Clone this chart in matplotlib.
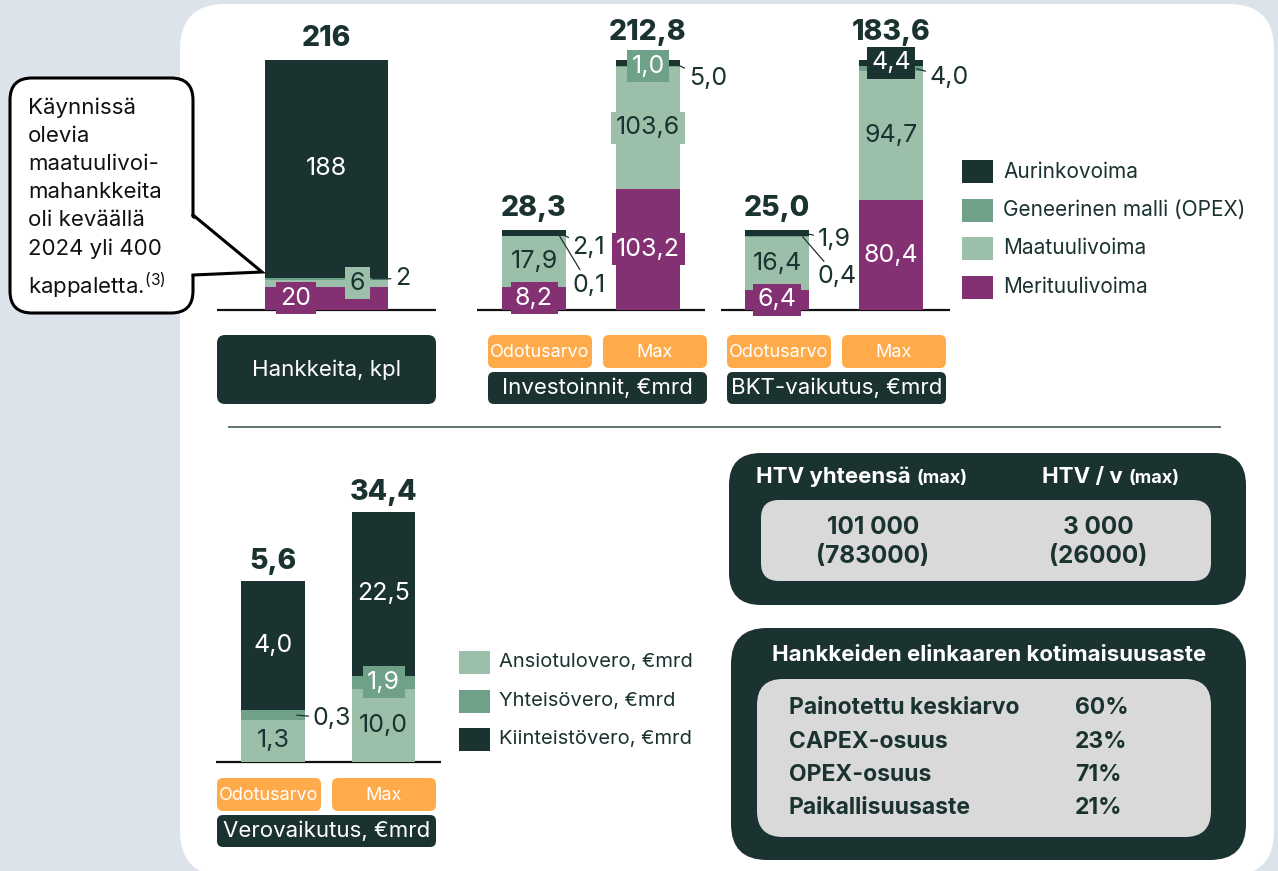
import matplotlib
matplotlib.use('Agg')
import matplotlib.pyplot as plt
from matplotlib.patches import FancyBboxPatch, Rectangle, Polygon

plt.rcParams['font.family'] = ['Inter', 'DejaVu Sans']
plt.rcParams['mathtext.fontset'] = 'custom'
plt.rcParams['mathtext.rm'] = 'Inter'

W, H = 1278, 871

# --- data ---------------------------------------------------------------
# pinot alhaalta ylös: meri, maa, geneerinen, aurinko
energia_sarjat = ['Merituulivoima', 'Maatuulivoima', 'Geneerinen malli (OPEX)', 'Aurinkovoima']
hankkeet_kpl = [20, 6, 2, 188]
hankkeet_yht = 216
invest_odotus = [8.2, 17.9, 0.1, 2.1]
invest_odotus_yht = 28.3
invest_max = [103.2, 103.6, 1.0, 5.0]
invest_max_yht = 212.8
bkt_odotus = [6.4, 16.4, 0.4, 1.9]
bkt_odotus_yht = 25.0
bkt_max = [80.4, 94.7, 4.0, 4.4]
bkt_max_yht = 183.6

vero_sarjat = ['Ansiotulovero, €mrd', 'Yhteisövero, €mrd', 'Kiinteistövero, €mrd']
vero_odotus = [1.3, 0.3, 4.0]
vero_odotus_yht = 5.6
vero_max = [10.0, 1.9, 22.5]
vero_max_yht = 34.4

skenaariot = ['Odotusarvo', 'Max']
htv_otsikot = ['HTV yhteensä', 'HTV / v']
htv_arvot = ['101 000', '3 000']
htv_sulut = ['(783000)', '(26000)']

kotimaisuus_nimet = ['Painotettu keskiarvo', 'CAPEX-osuus', 'OPEX-osuus', 'Paikallisuusaste']
kotimaisuus_pros = [60, 23, 71, 21]

# --- colours ------------------------------------------------------------
DARK = '#1b3330'
GEN = '#6fa088'
MAA = '#9cbfa9'
MERI = '#843173'
ORANGE = '#ffab4c'
BG = '#dce3ea'
GRAY = '#d9d9d9'

energia_varit = [MERI, MAA, GEN, DARK]
vero_varit = [MAA, GEN, DARK]

fig = plt.figure(figsize=(W / 100, H / 100), dpi=100)
fig.patch.set_facecolor(BG)

bg = fig.add_axes([0, 0, 1, 1])
bg.set_xlim(0, W)
bg.set_ylim(H, 0)
bg.axis('off')


def rbox(x0, y0, x1, y1, color, r, **kw):
    p = FancyBboxPatch((x0, y0), x1 - x0, y1 - y0,
                       boxstyle=f'round,pad=0,rounding_size={r}',
                       facecolor=color, edgecolor=kw.pop('ec', 'none'), **kw)
    bg.add_patch(p)
    return p


def fmt(v, dec=1):
    return f'{v:.{dec}f}'.replace('.', ',')


def draw_stack(x0, x1, base, h_px, values, total, colors, specs, total_off=20, dec=1):
    ax = fig.add_axes([x0 / W, (H - base) / H, (x1 - x0) / W, h_px / H])
    ax.set_xlim(-0.5, 0.5)
    ax.set_ylim(0, sum(values))
    ax.axis('off')
    bottom = 0
    for v, c, spec in zip(values, colors, specs):
        ax.bar(0, v, bottom=bottom, width=1, color=c, linewidth=0)
        mid = bottom + v / 2
        kind = spec[0]
        if kind == 'out':
            _, sx, dx, dy = spec
            ax.annotate(fmt(v, dec), xy=(sx, mid), xytext=(dx * 0.72, -dy * 0.72),
                        textcoords='offset points', ha='left', va='center',
                        fontsize=18, color=DARK, annotation_clip=False,
                        arrowprops=dict(arrowstyle='-', color=DARK, lw=0.9,
                                        shrinkA=1, shrinkB=0))
        else:
            _, sx, tc = spec
            kw = {}
            if kind == 'box':
                kw['bbox'] = dict(boxstyle='square,pad=0.18', fc=c, ec='none')
            ax.text(sx, mid, fmt(v, dec), ha='center', va='center',
                    fontsize=18, color=tc, **kw)
        bottom += v
    ax.annotate(fmt(total, dec), xy=(0, sum(values)), xytext=(0, total_off * 0.72),
                textcoords='offset points', ha='center', va='center',
                fontsize=20.5, fontweight='heavy', color=DARK, annotation_clip=False)
    return ax


# white panel
rbox(180, 4, 1274, 876, 'white', 45)

# callout bubble
rbox(10, 78, 193, 313, 'white', 22, ec='black', lw=2.2)
bg.add_patch(Polygon([(190, 216), (262, 272), (190, 275)], closed=True,
                     facecolor='white', edgecolor='none'))
bg.plot([193, 262, 193], [215, 272, 275], color='black', lw=2.2,
        solid_joinstyle='miter')
bg.text(28, 98, 'Käynnissä\nolevia\nmaatuulivoi-\nmahankkeita\noli keväällä\n'
        '2024 yli 400\nkappaletta.$^{\\mathrm{(3)}}$',
        ha='left', va='top', fontsize=16, color='#111111', linespacing=1.5)

# baselines
for xa, xb, yb in [(217, 436, 310), (477, 705, 310), (721, 950, 310), (216, 441, 762)]:
    bg.plot([xa, xb], [yb, yb], color='#111111', lw=1.6, solid_capstyle='butt')

# separator
bg.plot([229, 1220], [427, 427], color='#5f7572', lw=1.4)

# category boxes
rbox(217, 335, 436, 404, DARK, 8)
bg.text(326.5, 370, 'Hankkeita, kpl', ha='center', va='center', fontsize=16, color='white')

for ox, title, ytop in [(488, 'Investoinnit, €mrd', 335), (727, 'BKT-vaikutus, €mrd', 335),
                        (217, 'Verovaikutus, €mrd', 778)]:
    w = 219
    half = 104
    rbox(ox, ytop, ox + half, ytop + 33, ORANGE, 6)
    rbox(ox + w - half, ytop, ox + w, ytop + 33, ORANGE, 6)
    bg.text(ox + half / 2, ytop + 17, skenaariot[0], ha='center', va='center',
            fontsize=13, color='white')
    bg.text(ox + w - half / 2, ytop + 17, skenaariot[1], ha='center', va='center',
            fontsize=13, color='white')
    rbox(ox, ytop + 37, ox + w, ytop + 69, DARK, 6)
    bg.text(ox + w / 2, ytop + 53, title, ha='center', va='center', fontsize=16, color='white')

# stacked bars
draw_stack(265, 388, 310, 250, hankkeet_kpl, hankkeet_yht, energia_varit,
           [('box', -0.25, 'white'), ('box', 0.25, DARK), ('out', 0.37, 23, 0), ('in', 0, 'white')],
           total_off=21, dec=0)
draw_stack(502, 566, 310, 80, invest_odotus, invest_odotus_yht, energia_varit,
           [('box', 0, 'white'), ('in', 0, DARK), ('out', 0.4, 13, 49), ('out', 0.4, 13, 15)],
           total_off=21)
draw_stack(616, 680, 310, 250, invest_max, invest_max_yht, energia_varit,
           [('box', 0, 'white'), ('box', 0, DARK), ('box', 0, 'white'), ('out', 0.4, 15, 16)],
           total_off=27)
draw_stack(745, 809, 310, 80, bkt_odotus, bkt_odotus_yht, energia_varit,
           [('box', 0, 'white'), ('in', 0, DARK), ('out', 0.4, 15, 40), ('out', 0.4, 15, 6)],
           total_off=21)
draw_stack(859, 923, 310, 250, bkt_max, bkt_max_yht, energia_varit,
           [('in', 0, 'white'), ('in', 0, DARK), ('out', 0.4, 13, 9), ('box', 0, 'white')],
           total_off=28)
draw_stack(241, 305, 762, 181, vero_odotus, vero_odotus_yht, vero_varit,
           [('in', 0, DARK), ('out', 0.37, 16, 3), ('in', 0, 'white')],
           total_off=20)
draw_stack(352, 415, 762, 250, vero_max, vero_max_yht, vero_varit,
           [('in', 0, DARK), ('box', 0, 'white'), ('in', 0, 'white')],
           total_off=20)

# legends
for name, col, yc in zip(energia_sarjat[::-1], energia_varit[::-1], [172, 210, 248, 287]):
    bg.add_patch(Rectangle((962, yc - 11.5), 31, 23, facecolor=col, edgecolor='none'))
    bg.text(1003, yc, name, ha='left', va='center', fontsize=15, color=DARK)
for name, col, yc in zip(vero_sarjat, vero_varit, [662, 701, 739]):
    bg.add_patch(Rectangle((459, yc - 11.5), 31, 23, facecolor=col, edgecolor='none'))
    bg.text(499, yc, name, ha='left', va='center', fontsize=14.5, color=DARK)

# HTV box
rbox(729, 453, 1246, 605, DARK, 32)
rbox(761, 500, 1211, 581, GRAY, 18)
for title, tx, mx in zip(htv_otsikot, [756, 1042], [917, 1129]):
    bg.text(tx, 477, title, ha='left', va='center', fontsize=16, fontweight='bold', color='white')
    bg.text(mx, 478, '(max)', ha='left', va='center', fontsize=13, fontweight='bold', color='white')
for val, sulku, cx in zip(htv_arvot, htv_sulut, [873, 1098]):
    bg.text(cx, 527, val, ha='center', va='center', fontsize=17.5, fontweight='bold', color=DARK)
    bg.text(cx, 556, sulku, ha='center', va='center', fontsize=17.5, fontweight='bold', color=DARK)

# kotimaisuusaste box
rbox(731, 628, 1246, 860, DARK, 36)
rbox(757, 679, 1211, 837, GRAY, 26)
bg.text(989, 655, 'Hankkeiden elinkaaren kotimaisuusaste', ha='center', va='center',
        fontsize=16, fontweight='bold', color='white')
for name, pct, yc in zip(kotimaisuus_nimet, kotimaisuus_pros, [708, 742, 775, 808]):
    bg.text(789, yc, name, ha='left', va='center', fontsize=16.5, fontweight='bold', color=DARK)
    bg.text(1075, yc, f'{pct}%', ha='left', va='center', fontsize=16.5, fontweight='bold', color=DARK)

fig.savefig('out.png', dpi=100, facecolor=fig.get_facecolor())
